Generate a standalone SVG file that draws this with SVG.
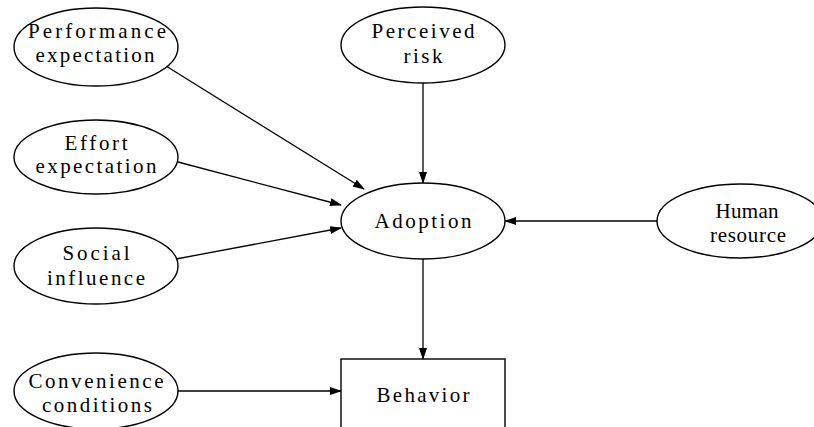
<svg xmlns="http://www.w3.org/2000/svg" width="814" height="427" viewBox="0 0 814 427">
<defs>
<marker id="ah" markerWidth="12" markerHeight="8" refX="11" refY="4" orient="auto" markerUnits="userSpaceOnUse">
<path d="M0,0 L12,4 L0,8 Z" fill="#000"/>
</marker>
</defs>
<style>
.n ellipse, .n rect { fill: #fff; stroke: #000; stroke-width: 1.4; }
.n text { font-family: 'Liberation Serif', 'Times New Roman', serif; font-size: 21px; text-anchor: middle; fill: #000; }
.c line { stroke: #000; stroke-width: 1.3; marker-end: url(#ah); }
</style>
<rect width="814" height="427" fill="#fff"/>
<g class="c" id="connectors">
<line x1="166" y1="66" x2="364" y2="189"/>
<line x1="178" y1="162" x2="341" y2="205"/>
<line x1="176" y1="259" x2="341" y2="228"/>
<line x1="423" y1="83" x2="423" y2="183"/>
<line x1="657" y1="221" x2="505" y2="221"/>
<line x1="423" y1="258" x2="423" y2="359"/>
<line x1="178" y1="391" x2="341" y2="391"/>
</g>
<g class="n" id="performance">
<ellipse cx="96" cy="47" rx="82" ry="39"/>
<text x="97" y="38" textLength="138" lengthAdjust="spacing">Performance</text>
<text x="95" y="62" textLength="119" lengthAdjust="spacing">expectation</text>
</g>
<g class="n" id="perceived">
<ellipse cx="423" cy="45" rx="82" ry="38"/>
<text x="423" y="38" textLength="103" lengthAdjust="spacing">Perceived</text>
<text x="423" y="63" textLength="39" lengthAdjust="spacing">risk</text>
</g>
<g class="n" id="effort">
<ellipse cx="96" cy="157" rx="82" ry="37"/>
<text x="96" y="150" textLength="63" lengthAdjust="spacing">Effort</text>
<text x="96" y="173" textLength="121" lengthAdjust="spacing">expectation</text>
</g>
<g class="n" id="adoption">
<ellipse cx="423" cy="221" rx="82" ry="38"/>
<text x="423" y="228" textLength="97" lengthAdjust="spacing">Adoption</text>
</g>
<g class="n" id="human">
<ellipse cx="740" cy="221" rx="83" ry="37"/>
<text x="747" y="218" textLength="63" lengthAdjust="spacing">Human</text>
<text x="748" y="242" textLength="76" lengthAdjust="spacing">resource</text>
</g>
<g class="n" id="social">
<ellipse cx="96" cy="266" rx="82" ry="38"/>
<text x="96" y="260" textLength="67" lengthAdjust="spacing">Social</text>
<text x="96" y="285" textLength="98" lengthAdjust="spacing">influence</text>
</g>
<g class="n" id="convenience">
<ellipse cx="96" cy="391" rx="82" ry="38"/>
<text x="96" y="388" textLength="135" lengthAdjust="spacing">Convenience</text>
<text x="97" y="412" textLength="110" lengthAdjust="spacing">conditions</text>
</g>
<g class="n" id="behavior">
<rect x="341" y="359" width="164" height="80"/>
<text x="423" y="402" textLength="93" lengthAdjust="spacing">Behavior</text>
</g>
</svg>
